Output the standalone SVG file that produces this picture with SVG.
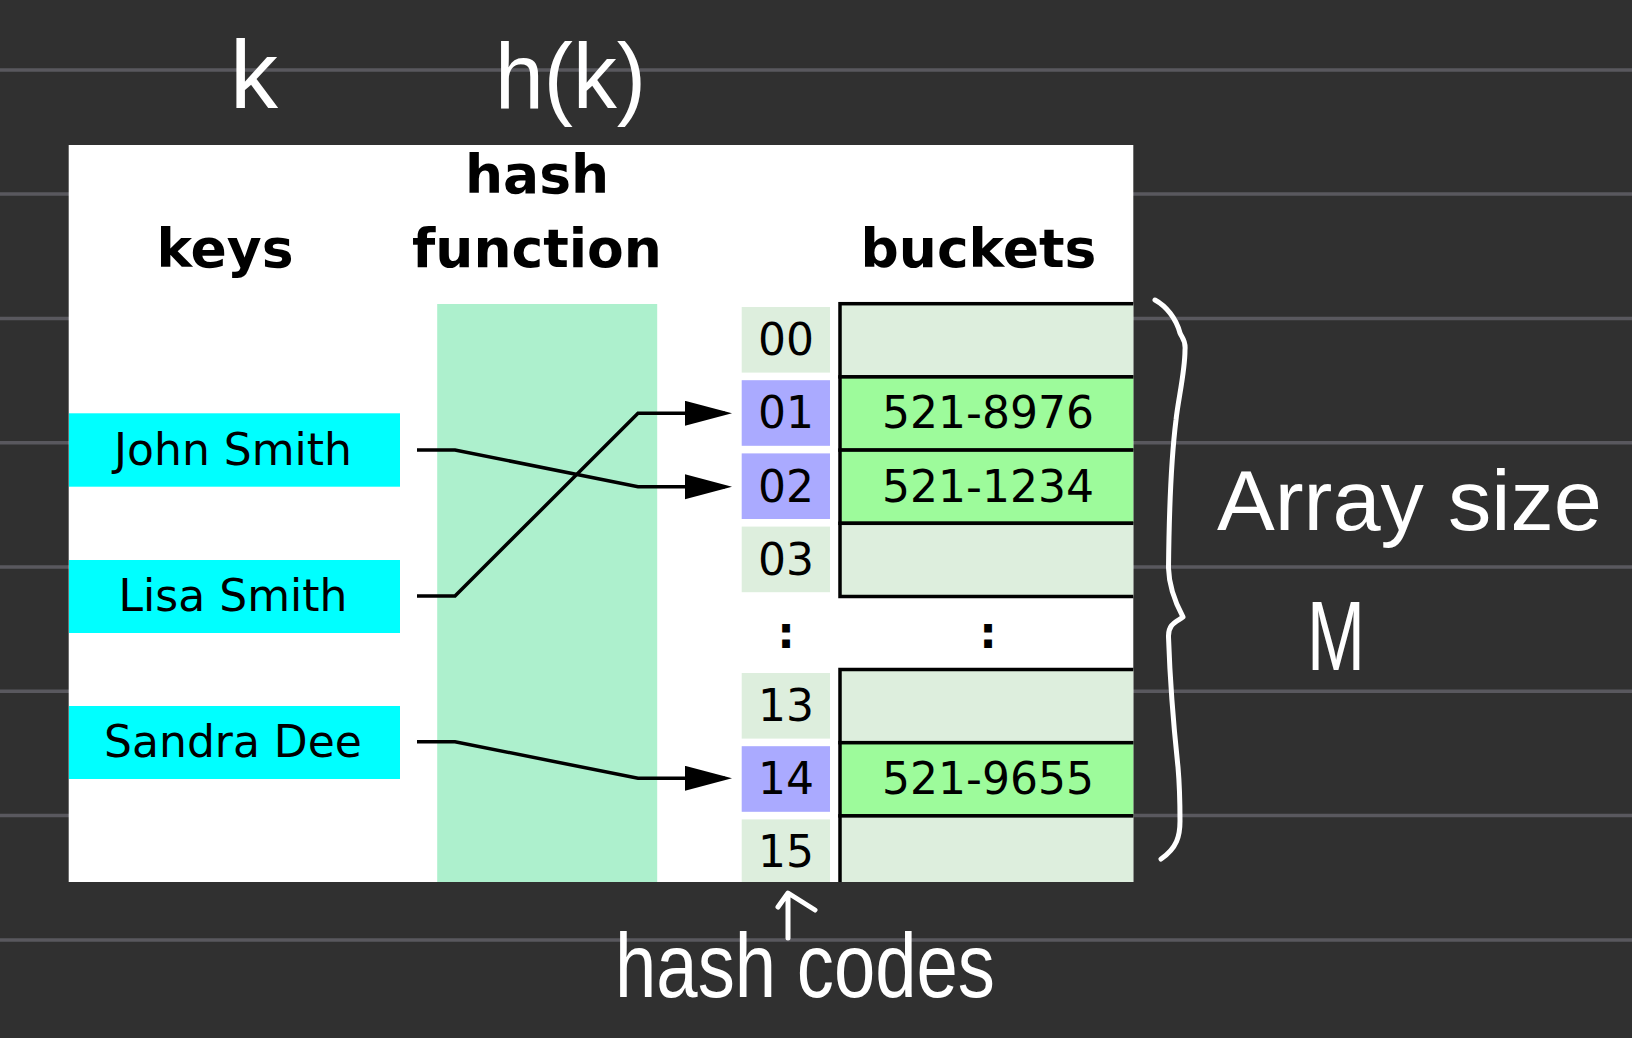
<svg xmlns="http://www.w3.org/2000/svg" width="1632" height="1038" viewBox="0 0 1632 1038">
  <defs>
    <style>
      .rule { stroke: #59585e; stroke-width: 3.5; }
      .hdr { font-family: "DejaVu Sans", sans-serif; font-weight: bold; font-size: 53.5px; fill: #000; text-anchor: middle; }
      .lbl { font-family: "DejaVu Sans", sans-serif; font-size: 44px; fill: #000; text-anchor: middle; }
      .colon { font-family: "DejaVu Sans", sans-serif; font-weight: bold; font-size: 44px; fill: #000; text-anchor: middle; }
      .key { fill: #00ffff; }
      .idx { fill: #ddeedd; }
      .idxh { fill: #aaaaff; }
      .bk { fill: #ddeedd; stroke: #000; stroke-width: 3.5; }
      .bkf { fill: #9dfb9b; stroke: #000; stroke-width: 3.5; }
      .conn { fill: none; stroke: #000; stroke-width: 3.5; }
      .hand { font-family: "Liberation Sans", "DejaVu Sans", sans-serif; fill: #ffffff; }
      .pen { fill: none; stroke: #ffffff; stroke-width: 5; stroke-linecap: round; stroke-linejoin: round; }
    </style>
    <marker id="ah" markerUnits="userSpaceOnUse" markerWidth="50" markerHeight="28" refX="40" refY="12.5" orient="auto">
      <path d="M0,0 L47,12.5 L0,25 Z" fill="#000"/>
    </marker>
    <clipPath id="panelClip">
      <rect x="68.7" y="145" width="1064.6" height="737"/>
    </clipPath>
  </defs>

  <!-- background -->
  <rect x="0" y="0" width="1632" height="1038" fill="#303030"/>
  <g id="rules">
    <line class="rule" x1="0" y1="70" x2="1632" y2="70"/>
    <line class="rule" x1="0" y1="194" x2="1632" y2="194"/>
    <line class="rule" x1="0" y1="318.4" x2="1632" y2="318.4"/>
    <line class="rule" x1="0" y1="442.7" x2="1632" y2="442.7"/>
    <line class="rule" x1="0" y1="566.9" x2="1632" y2="566.9"/>
    <line class="rule" x1="0" y1="691.3" x2="1632" y2="691.3"/>
    <line class="rule" x1="0" y1="815.6" x2="1632" y2="815.6"/>
    <line class="rule" x1="0" y1="940" x2="1632" y2="940"/>
  </g>

  <!-- white panel -->
  <rect id="panel" x="68.7" y="145" width="1064.6" height="737" fill="#ffffff"/>

  <g clip-path="url(#panelClip)">
    <!-- headers -->
    <g id="headers">
      <text class="hdr" x="225" y="267">keys</text>
      <text class="hdr" x="537" y="193">hash</text>
      <text class="hdr" x="537" y="267">function</text>
      <text class="hdr" x="978.5" y="267">buckets</text>
    </g>

    <!-- hash function column -->
    <rect id="hashfn" x="437.2" y="304" width="220" height="580" fill="#adf0cd"/>

    <!-- keys -->
    <g id="key-john">
      <rect class="key" x="69" y="413.3" width="331" height="73.4"/>
      <text class="lbl" x="233" y="465">John Smith</text>
    </g>
    <g id="key-lisa">
      <rect class="key" x="69" y="560" width="331" height="73"/>
      <text class="lbl" x="233" y="610.5">Lisa Smith</text>
    </g>
    <g id="key-sandra">
      <rect class="key" x="69" y="706" width="331" height="73"/>
      <text class="lbl" x="233" y="757">Sandra Dee</text>
    </g>

    <!-- index cells -->
    <g id="idx-00"><rect class="idx" x="741.7" y="307" width="88.3" height="65.6"/><text class="lbl" x="786" y="355">00</text></g>
    <g id="idx-01"><rect class="idxh" x="741.7" y="380.2" width="88.3" height="65.6"/><text class="lbl" x="786" y="428.3">01</text></g>
    <g id="idx-02"><rect class="idxh" x="741.7" y="453.4" width="88.3" height="65.6"/><text class="lbl" x="786" y="501.5">02</text></g>
    <g id="idx-03"><rect class="idx" x="741.7" y="526.6" width="88.3" height="65.6"/><text class="lbl" x="786" y="574.7">03</text></g>
    <g id="idx-dots"><text class="colon" x="786" y="648">:</text></g>
    <g id="idx-13"><rect class="idx" x="741.7" y="673" width="88.3" height="65.6"/><text class="lbl" x="786" y="721">13</text></g>
    <g id="idx-14"><rect class="idxh" x="741.7" y="746.2" width="88.3" height="65.6"/><text class="lbl" x="786" y="794">14</text></g>
    <g id="idx-15"><rect class="idx" x="741.7" y="819.4" width="88.3" height="65.6"/><text class="lbl" x="786" y="867.3">15</text></g>

    <!-- buckets -->
    <g id="bucket-00"><rect class="bk" x="840" y="303.7" width="320" height="73.2"/></g>
    <g id="bucket-01"><rect class="bkf" x="840" y="376.9" width="320" height="73.2"/><text class="lbl" x="988" y="428.3">521-8976</text></g>
    <g id="bucket-02"><rect class="bkf" x="840" y="450.1" width="320" height="73.2"/><text class="lbl" x="988" y="501.5">521-1234</text></g>
    <g id="bucket-03"><rect class="bk" x="840" y="523.3" width="320" height="73.2"/></g>
    <g id="bucket-dots"><text class="colon" x="988" y="648">:</text></g>
    <g id="bucket-13"><rect class="bk" x="840" y="669.5" width="320" height="73.2"/></g>
    <g id="bucket-14"><rect class="bkf" x="840" y="742.7" width="320" height="73.2"/><text class="lbl" x="988" y="794">521-9655</text></g>
    <g id="bucket-15"><rect class="bk" x="840" y="815.9" width="320" height="73.2"/></g>

    <!-- connectors -->
    <g id="connectors">
      <path class="conn" d="M417,450 H455 L638,486.7 H725" marker-end="url(#ah)"/>
      <path class="conn" d="M417,596 H455 L638,413.3 H725" marker-end="url(#ah)"/>
      <path class="conn" d="M417,741.7 H455 L638,778.3 H725" marker-end="url(#ah)"/>
    </g>
  </g>

  <!-- handwritten annotations -->
  <g id="note-k"><text class="hand" x="254" y="108" font-size="96" text-anchor="middle">k</text></g>
  <g id="note-hk"><text class="hand" x="495" y="108" font-size="92" textLength="151" lengthAdjust="spacingAndGlyphs">h(k)</text></g>
  <g id="note-array"><text class="hand" x="1217" y="530" font-size="86" textLength="385" lengthAdjust="spacingAndGlyphs">Array size</text></g>
  <g id="note-m"><text class="hand" x="1307" y="670" font-size="98" textLength="58" lengthAdjust="spacingAndGlyphs">M</text></g>
  <g id="note-hashcodes"><text class="hand" x="615" y="997" font-size="90" textLength="380" lengthAdjust="spacingAndGlyphs">hash codes</text></g>
  <g id="brace">
    <path class="pen" d="M1155,300 C1166,306 1176,318 1180,333 C1182,338 1186,340 1185,350 C1185,372 1178,400 1176,420 C1171,460 1169,520 1168.5,568 C1169,588 1176,604 1183,617 C1176,622 1168,624 1168.5,637 C1170,680 1174,730 1178,767 C1180,790 1180,810 1180,821 C1180,836 1177,848 1161,859"/>
  </g>
  <g id="arrow-up">
    <path class="pen" d="M788,938 L788,894 M778,907 L788,893 L815,910"/>
  </g>
</svg>
